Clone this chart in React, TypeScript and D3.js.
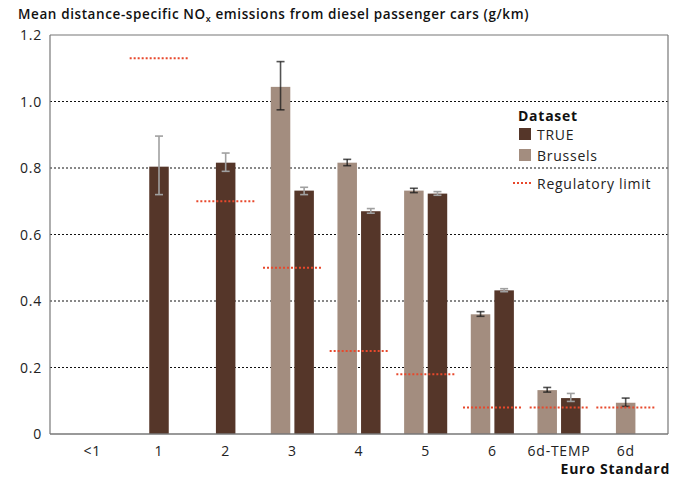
import React from "react";
import * as d3 from "d3";

const categories = ["<1", "1", "2", "3", "4", "5", "6", "6d-TEMP", "6d"];

// Brussels series (null = no data)
const brusselsMean = [null, null, null, 1.044, 0.816, 0.732, 0.36, 0.132, 0.094];
const brusselsLow = [null, null, null, 0.975, 0.807, 0.726, 0.354, 0.126, 0.083];
const brusselsHigh = [null, null, null, 1.12, 0.826, 0.739, 0.368, 0.14, 0.108];

// TRUE series
const trueMean = [null, 0.804, 0.816, 0.732, 0.67, 0.723, 0.432, 0.108, null];
const trueLow = [null, 0.72, 0.79, 0.72, 0.664, 0.718, 0.428, 0.098, null];
const trueHigh = [null, 0.896, 0.845, 0.742, 0.678, 0.729, 0.437, 0.122, null];

// Regulatory limits
const regLimit = [null, 1.13, 0.7, 0.5, 0.25, 0.18, 0.08, 0.08, 0.08];

const yTicks = [0, 0.2, 0.4, 0.6, 0.8, 1.0, 1.2];
const yTickLabels = ["0", "0.2", "0.4", "0.6", "0.8", "1.0", "1.2"];

const COLOR_TRUE = "#553629";
const COLOR_BRUSSELS = "#a38d7f";
const COLOR_REG = "#e8482c";
const FONT = "'Open Sans', sans-serif";
const LS = 0.75;

export default function App() {
  const W = 673;
  const H = 477;
  const plotL = 50;
  const plotR = 668;
  const plotT = 35;
  const plotB = 434;

  const x = d3.scaleBand<string>().domain(categories).range([59, 659]).padding(0);
  const y = d3.scaleLinear().domain([0, 1.2]).range([plotB, plotT]);
  const step = x.step();
  const barW = 19.5;
  const offset = 11.8;
  const capW = 8;

  const bars: React.ReactNode[] = [];
  const errs: React.ReactNode[] = [];
  const regs: React.ReactNode[] = [];

  categories.forEach((c, i) => {
    const cx = (x(c) as number) + step / 2;
    const hasB = brusselsMean[i] != null;
    const hasT = trueMean[i] != null;
    const both = hasB && hasT;
    const series = [
      { has: hasB, m: brusselsMean[i], lo: brusselsLow[i], hi: brusselsHigh[i], col: COLOR_BRUSSELS, ec: "#1a1a1a", eo: 0.75, pos: both ? cx - offset : cx, key: "b" },
      { has: hasT, m: trueMean[i], lo: trueLow[i], hi: trueHigh[i], col: COLOR_TRUE, ec: "#a0a0a0", eo: 1, pos: both ? cx + offset : cx, key: "t" },
    ];
    series.forEach((s) => {
      if (!s.has) return;
      const m = s.m as number;
      bars.push(
        <rect key={`bar-${s.key}-${i}`} x={s.pos - barW / 2} y={y(m)} width={barW} height={y(0) - y(m)} fill={s.col} />
      );
      const lo = s.lo as number;
      const hi = s.hi as number;
      errs.push(
        <g key={`err-${s.key}-${i}`} stroke={s.ec} strokeOpacity={s.eo} strokeWidth={1.6} fill="none">
          <line x1={s.pos} x2={s.pos} y1={y(lo)} y2={y(hi)} />
          <line x1={s.pos - capW / 2} x2={s.pos + capW / 2} y1={y(lo)} y2={y(lo)} />
          <line x1={s.pos - capW / 2} x2={s.pos + capW / 2} y1={y(hi)} y2={y(hi)} />
        </g>
      );
    });
    if (regLimit[i] != null) {
      const r = regLimit[i] as number;
      regs.push(
        <line key={`reg-${i}`} x1={cx - step * 0.44} x2={cx + step * 0.44} y1={y(r)} y2={y(r)} stroke={COLOR_REG} strokeWidth={2} strokeDasharray="2 2" />
      );
    }
  });

  return (
    <svg width={W} height={H} style={{ position: "absolute", left: 0, top: 0, background: "#fff" }} fontFamily={FONT}>
      <rect x={0} y={0} width={W} height={H} fill="#fff" />
      <text x={18} y={19} fontSize={13.5} fontWeight={600} fill="#111" letterSpacing={0.6}>
        Mean distance-specific NO
        <tspan fontSize={9} dy={3}>x</tspan>
        <tspan dy={-3}> emissions from diesel passenger cars (g/km)</tspan>
      </text>

      {/* gridlines */}
      {yTicks.filter((t) => t > 0 && t < 1.2).map((t) => (
        <line key={`g-${t}`} x1={plotL} x2={plotR} y1={y(t)} y2={y(t)} stroke="#111" strokeWidth={1} strokeDasharray="2 2" />
      ))}

      {/* y tick labels */}
      {yTicks.map((t, i) => (
        <text key={`yt-${t}`} x={42} y={y(t) + 5} textAnchor="end" fontSize={14} fill="#222" letterSpacing={LS}>
          {yTickLabels[i]}
        </text>
      ))}

      {bars}
      {errs}
      {regs}

      {/* frame */}
      <line x1={plotL} x2={plotR} y1={plotT} y2={plotT} stroke="#777" strokeWidth={1.2} />
      <line x1={plotL} x2={plotL} y1={plotT} y2={plotB} stroke="#777" strokeWidth={1.2} />
      <line x1={plotR} x2={plotR} y1={plotT} y2={plotB} stroke="#777" strokeWidth={1.2} />
      <line x1={plotL} x2={plotR} y1={plotB} y2={plotB} stroke="#777" strokeWidth={1.5} />

      {/* x labels */}
      {categories.map((c) => (
        <text key={`xt-${c}`} x={(x(c) as number) + step / 2} y={456} textAnchor="middle" fontSize={14} fill="#222" letterSpacing={LS}>
          {c}
        </text>
      ))}
      <text x={670} y={474} textAnchor="end" fontSize={14} fontWeight={700} fill="#111" letterSpacing={LS}>
        Euro Standard
      </text>

      {/* legend */}
      <g>
        <text x={518} y={121} fontSize={14} fontWeight={700} fill="#111" letterSpacing={LS}>Dataset</text>
        <rect x={519} y={128} width={12} height={12} fill={COLOR_TRUE} />
        <text x={537} y={139.5} fontSize={14} fill="#222" letterSpacing={LS}>TRUE</text>
        <rect x={519} y={149} width={12} height={12} fill={COLOR_BRUSSELS} />
        <text x={537} y={160.5} fontSize={14} fill="#222" letterSpacing={LS}>Brussels</text>
        <line x1={513} x2={531} y1={183} y2={183} stroke={COLOR_REG} strokeWidth={2} strokeDasharray="2 2" />
        <text x={537} y={188.5} fontSize={14} fill="#222" letterSpacing={LS}>Regulatory limit</text>
      </g>
    </svg>
  );
}
